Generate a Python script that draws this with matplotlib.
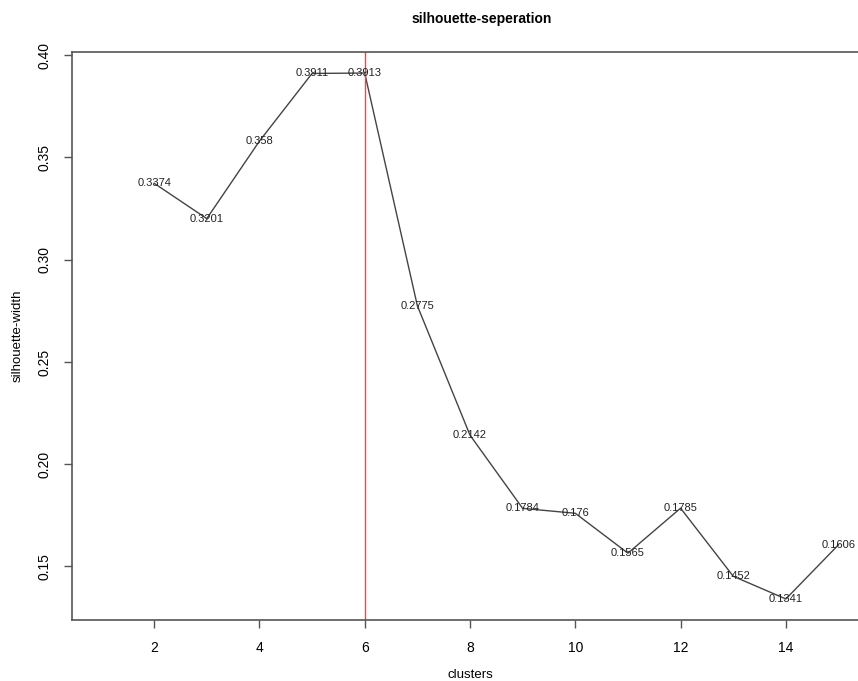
import matplotlib
matplotlib.use("Agg")
import matplotlib.pyplot as plt

plt.rcParams['font.family'] = ['Liberation Sans', 'DejaVu Sans']

clusters = [2, 3, 4, 5, 6, 7, 8, 9, 10, 11, 12, 13, 14, 15]
widths = [0.3374, 0.3201, 0.358, 0.3911, 0.3913, 0.2775, 0.2142,
          0.1784, 0.176, 0.1565, 0.1785, 0.1452, 0.1341, 0.1606]
labels = ["0.3374", "0.3201", "0.358", "0.3911", "0.3913", "0.2775", "0.2142",
          "0.1784", "0.176", "0.1565", "0.1785", "0.1452", "0.1341", "0.1606"]
best_k = 6
x_ticks = [2, 4, 6, 8, 10, 12, 14]
y_ticks = [0.15, 0.20, 0.25, 0.30, 0.35, 0.40]
y_ticklabels = ["0.15", "0.20", "0.25", "0.30", "0.35", "0.40"]

fig = plt.figure(figsize=(8.58, 6.81), dpi=100)
# plot region runs a bit past the right edge (cropped screenshot)
ax = fig.add_axes([72 / 858, 61 / 681, 796 / 858, 568 / 681])

ax.plot(clusters, widths, color='#444444', lw=1)
for x, y, s in zip(clusters, widths, labels):
    ax.text(x, y, s, ha='center', va='center', fontsize=8, color='#222222')
ax.axvline(best_k, color='#ff4040', lw=1)

# R style limits: 4% padding around 1..15
ax.set_xlim(0.44, 15.56)
ymin, ymax = min(widths), max(widths)
pad = (ymax - ymin) * 0.04
ax.set_ylim(ymin - pad, ymax + pad)

ax.set_xticks(x_ticks)
ax.set_xticklabels([str(t) for t in x_ticks], fontsize=10)
ax.set_yticks(y_ticks)
ax.set_yticklabels(y_ticklabels, fontsize=10, rotation=90, va='center')
ax.tick_params(direction='out', length=6, width=1, color='#555555', pad=9)

for sp in ax.spines.values():
    sp.set_color('#555555')
    sp.set_linewidth(1.2)

ax.set_title("silhouette-seperation", fontsize=10, fontweight='bold', pad=21, x=0.515)
ax.set_xlabel("clusters", fontsize=9.5, labelpad=10)
ax.set_ylabel("silhouette-width", fontsize=9.5, labelpad=10)

fig.savefig("out.png", dpi=100)
